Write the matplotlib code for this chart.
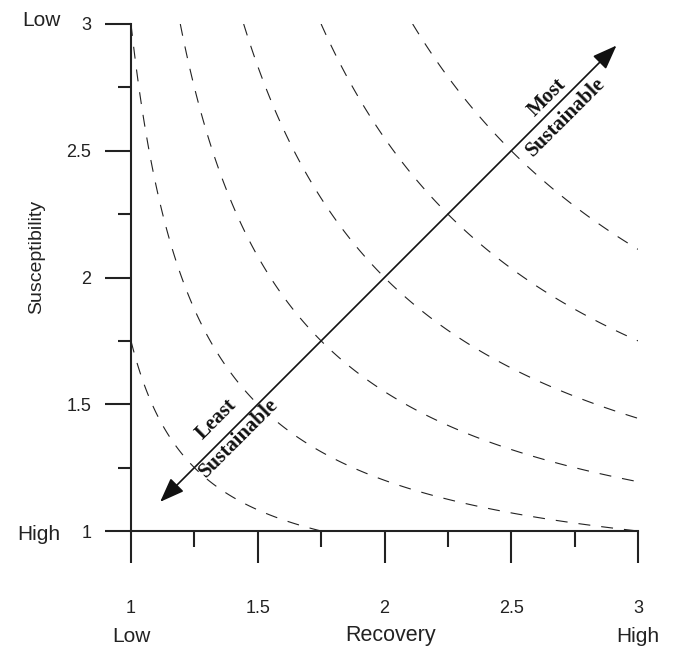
import numpy as np
import matplotlib
matplotlib.use("Agg")
import matplotlib.pyplot as plt
from matplotlib.patches import FancyArrowPatch
from matplotlib.transforms import blended_transform_factory

plt.rcParams['font.family'] = ['Liberation Sans', 'DejaVu Sans']
plt.rcParams['lines.scale_dashes'] = False

# where each dashed curve crosses the diagonal, and the common offset of the curves
diag_cross = [1.25, 1.5, 1.75, 2.0, 2.25, 2.5]
curve_offset = 0.75

x_ticks = [1, 1.5, 2, 2.5, 3]
x_tick_labels = ['1', '1.5', '2', '2.5', '3']
y_ticks = [1, 1.5, 2, 2.5, 3]
y_tick_labels = ['1', '1.5', '2', '2.5', '3']
minor_ticks = [1.25, 1.75, 2.25, 2.75]

arrow_start = (1.115, 1.115)
arrow_end = (2.915, 2.915)

fig = plt.figure(figsize=(6.75, 6.49), dpi=100)
ax = fig.add_axes([131 / 675, 118 / 649, 507 / 675, 507 / 649])

# dashed iso-lines
gx = np.linspace(1, 3, 400)
gy = np.linspace(1, 3, 400)
X, Y = np.meshgrid(gx, gy)
Z = (X - curve_offset) * (Y - curve_offset)
levels = [(d - curve_offset) ** 2 for d in diag_cross]
cs = ax.contour(X, Y, Z, levels=levels, colors='#222222', linewidths=0.8)
cs.set_linestyle((0, (8.6, 7.9)))

# double arrow
arr = FancyArrowPatch(arrow_start, arrow_end,
                      arrowstyle='<|-|>,head_length=1.0,head_width=0.38',
                      mutation_scale=15, lw=1.2, color='#111111',
                      shrinkA=0, shrinkB=0)
ax.add_patch(arr)

serif = dict(family=['Liberation Serif', 'DejaVu Serif'], fontweight='bold',
             fontsize=15, rotation=45, rotation_mode='anchor',
             ha='center', va='center', color='#111111')
ax.text(1.336, 1.441, 'Least', **serif)
ax.text(1.426, 1.367, 'Sustainable', **serif)
ax.text(2.643, 2.712, 'Most', **serif)
ax.text(2.716, 2.633, 'Sustainable', **serif)

ax.set_xlim(1, 3)
ax.set_ylim(1, 3)
for s in ['top', 'right']:
    ax.spines[s].set_visible(False)
for s in ['left', 'bottom']:
    ax.spines[s].set_linewidth(1.5)
    ax.spines[s].set_color('#222222')
    ax.spines[s].set_capstyle('projecting')

ax.set_xticks(x_ticks)
ax.set_xticklabels(x_tick_labels)
ax.set_yticks(y_ticks)
ax.set_yticklabels(y_tick_labels)
ax.set_xticks(minor_ticks, minor=True)
ax.set_yticks(minor_ticks, minor=True)
ax.tick_params(axis='x', which='major', length=23, width=1.5, pad=27,
               labelsize=13, color='#222222', labelcolor='#222222')
ax.tick_params(axis='x', which='minor', length=11.5, width=1.5, color='#222222')
ax.tick_params(axis='y', which='major', length=18.7, width=1.5, pad=10,
               labelsize=13, color='#222222', labelcolor='#222222')
ax.tick_params(axis='y', which='minor', length=9.4, width=1.5, color='#222222')

# axis end labels
tr = blended_transform_factory(ax.transData, fig.transFigure)
ax.text(1, 1 - 636 / 649, 'Low', transform=tr, ha='center', va='center',
        fontsize=15, color='#222222')
ax.text(3, 1 - 636 / 649, 'High', transform=tr, ha='center', va='center',
        fontsize=15, color='#222222')
fig.text(391 / 675, 1 - 636 / 649, 'Recovery', ha='center', va='center',
         fontsize=15.5, color='#222222')
fig.text(41 / 675, 1 - 20 / 649, 'Low', ha='center', va='center',
         fontsize=15, color='#222222')
fig.text(39 / 675, 1 - 535 / 649, 'High', ha='center', va='center',
         fontsize=15, color='#222222')
fig.text(37 / 675, 1 - 257 / 649, 'Susceptibility', ha='center', va='center',
         rotation=90, fontsize=14, color='#222222')

fig.savefig('out.png', dpi=100)
